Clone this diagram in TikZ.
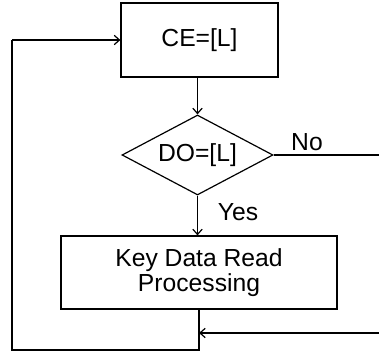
\documentclass[tikz,border=0pt]{standalone}
\usepackage{fontspec}
\setmainfont{Liberation Sans}
\usetikzlibrary{shapes.geometric,arrows.meta}
\begin{document}
\begin{tikzpicture}[x=0.75pt,y=-0.75pt,
  every node/.style={font=\fontsize{18.5}{16.5}\selectfont},
  boxnode/.style={draw,line width=0.9pt,inner sep=0pt,align=center},
  decnode/.style={draw,line width=0.9pt,diamond,aspect=1.89,inner sep=0pt,minimum width=113.25pt,minimum height=60pt},
  conn/.style={line width=0.9pt},
  arr/.style={conn,-{Straight Barb[length=4pt,width=7pt]}},
  lbl/.style={inner sep=0pt}]
\useasboundingbox (0,0) rectangle (379,352);
\node[boxnode,minimum width=117.75pt,minimum height=55.5pt] (ce) at (199.5,40) {CE=[L]};
\node[decnode] (do) at (197.5,155) {DO=[L]};
\node[boxnode,minimum width=207pt,minimum height=54.75pt] (kd) at (199,272.5) {Key Data Read\\Processing};
\coordinate (noend) at (379,155);
\coordinate (inr) at (379,333);
\coordinate (join) at (kd.south |- inr);
\coordinate (bot) at (kd.south |- 0,350);
\coordinate (bl) at (12,350);
\coordinate (tl) at (12,40);
\draw[arr] (ce.south -| do.north) -- (do.north);
\draw[arr] (do.south) -- (do.south |- kd.north);
\draw[conn] (do.east) -- (noend);
\draw[arr] (inr) -- (join);
\draw[conn] (kd.south) -- (bot) -- (bl) -- (tl);
\draw[arr] (tl) -- (ce.west);
\node[lbl] (no) at (307,142) {No};
\node[lbl] (yes) at (238,212) {Yes};
\end{tikzpicture}
\end{document}
